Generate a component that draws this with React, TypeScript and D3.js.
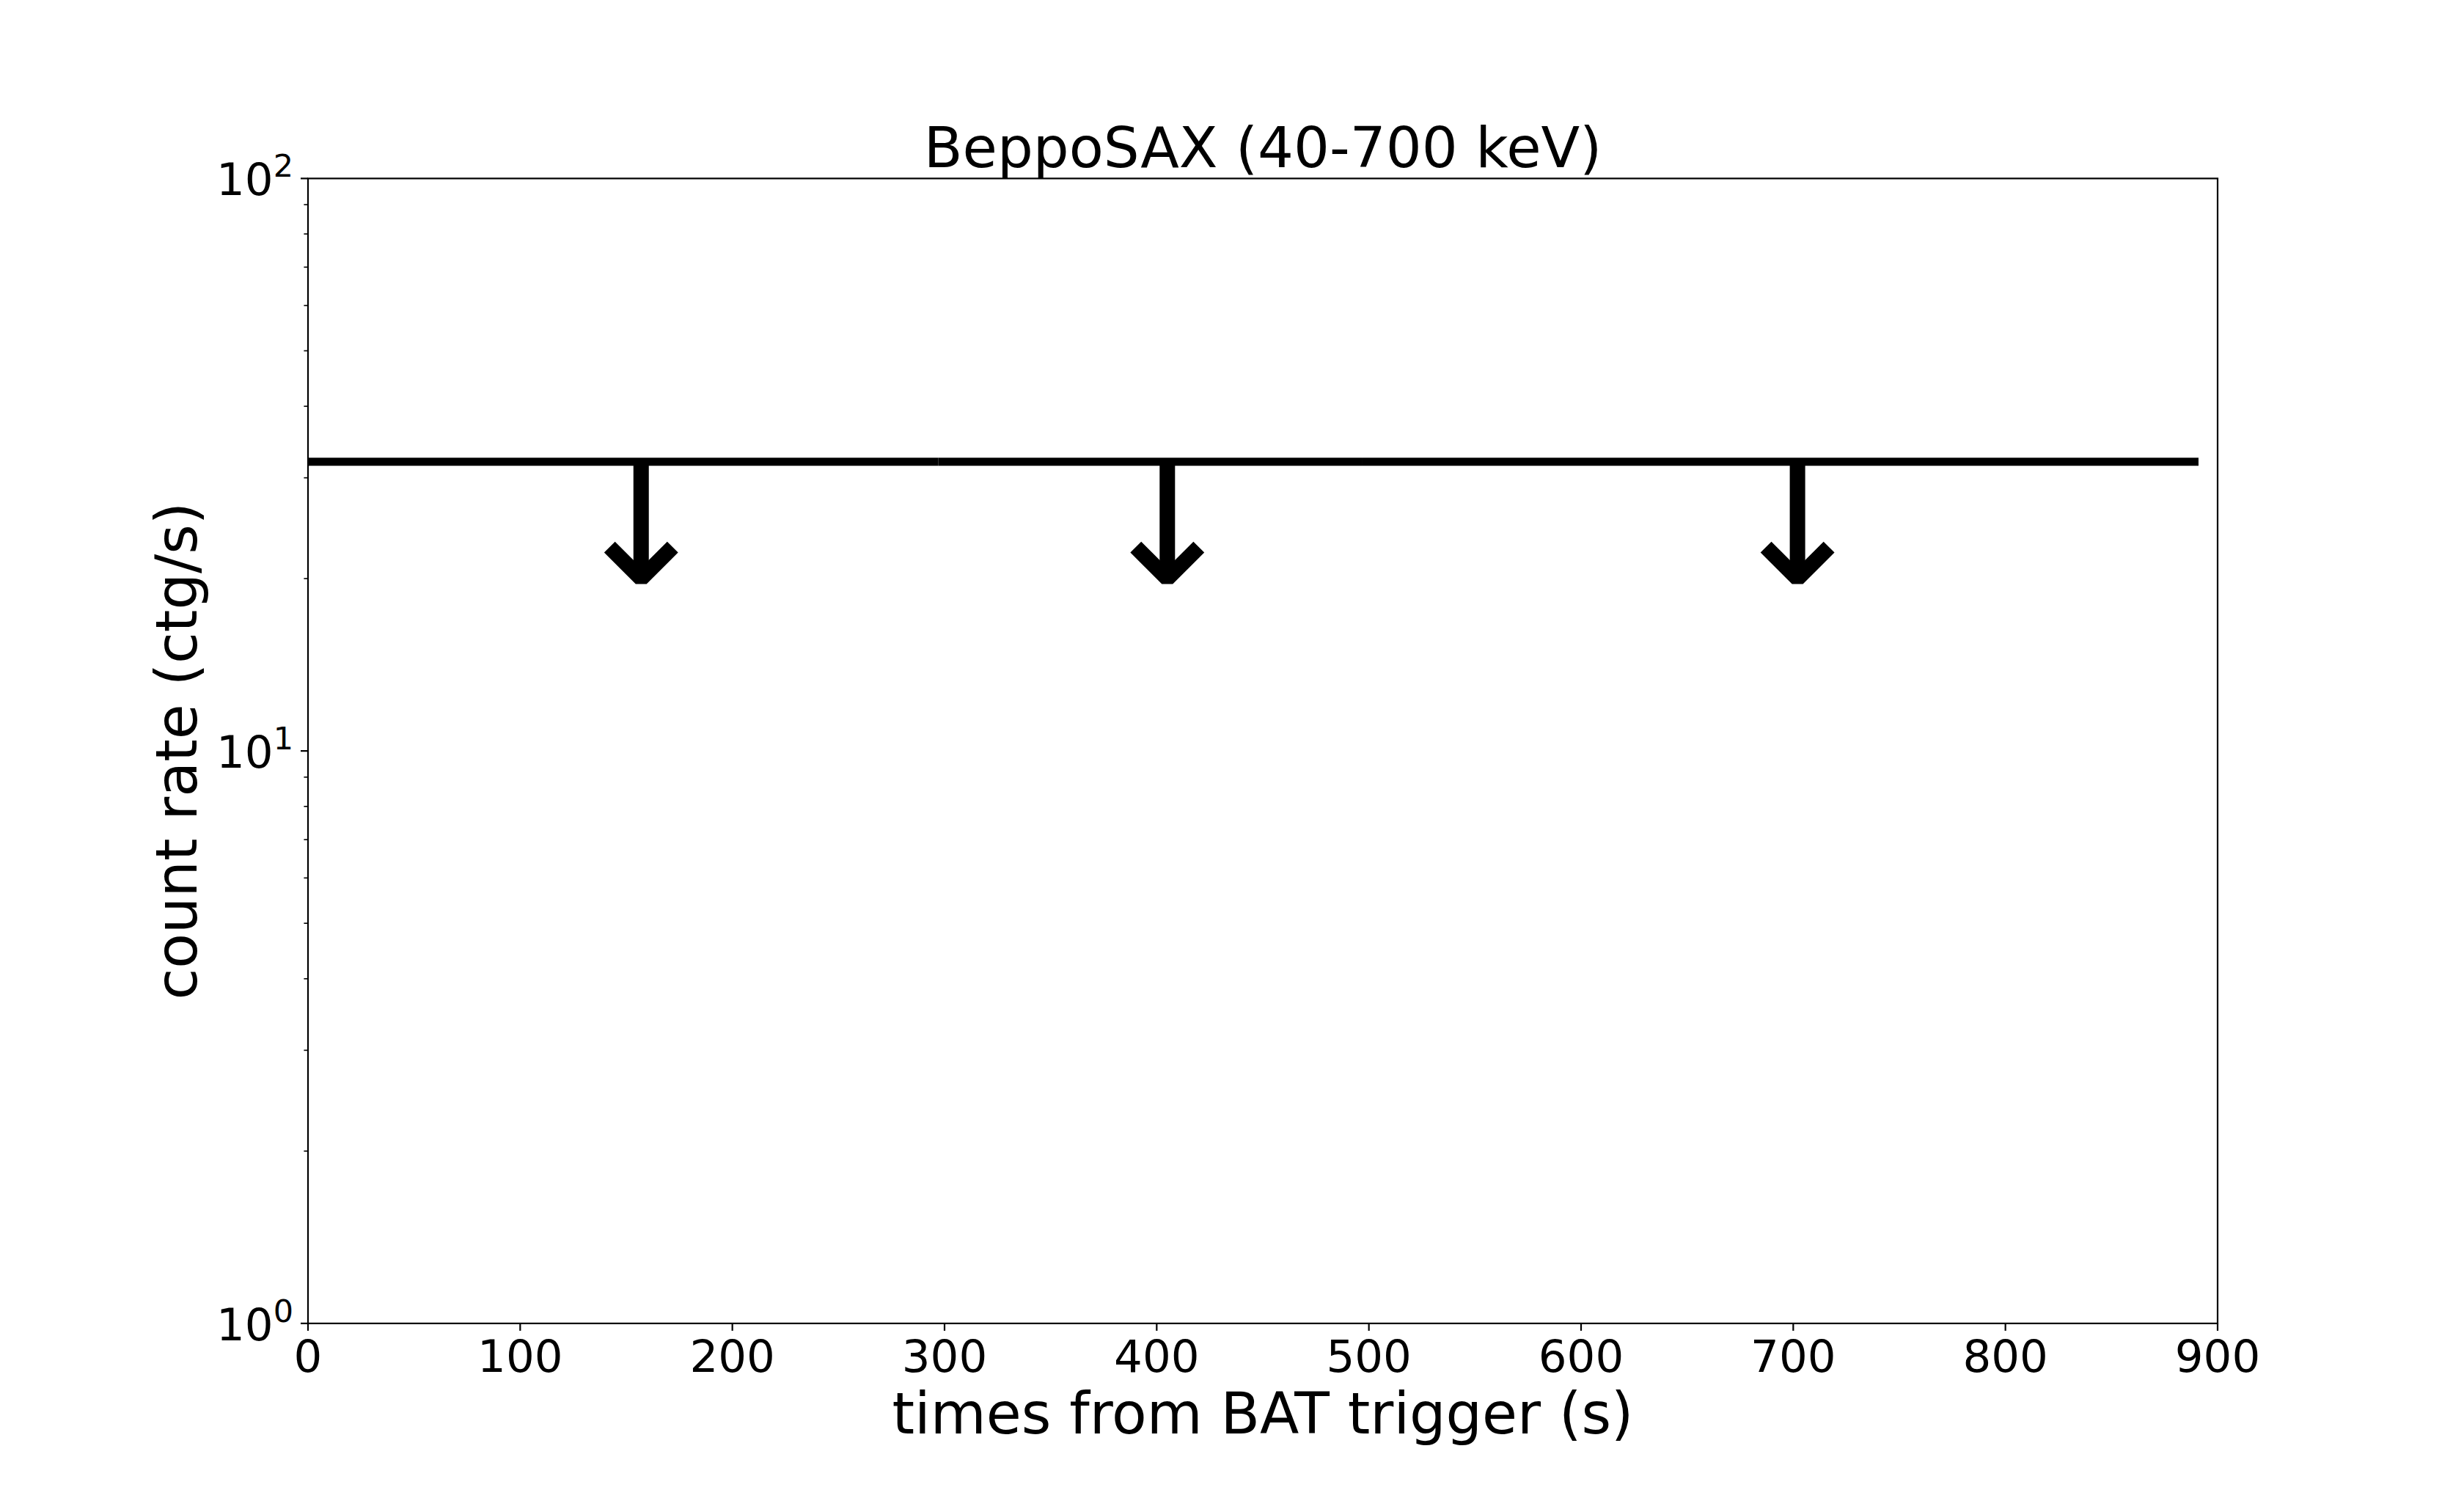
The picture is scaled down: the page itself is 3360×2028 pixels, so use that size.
import { useEffect, useRef } from "react";
import * as d3 from "d3";

// upper limits, one per time bin
const binTimes = [157, 405, 702];
const binStart = [0, 297, 497];
const binEnd = [297, 497, 891];
const upperLimit = [32, 32, 32];
const arrowEnd = [20, 20, 20];

const xTicks = [0, 100, 200, 300, 400, 500, 600, 700, 800, 900];
const yDecades = [0, 1, 2];

export default function App() {
  const svgRef = useRef<SVGSVGElement>(null);

  useEffect(() => {
    const svg = d3.select(svgRef.current);
    svg.selectAll("*").remove();

    const width = 3360;
    const height = 2028;
    const left = 420, right = 3024, top = 243.4, bottom = 1804.9;
    const font = "DejaVu Sans, sans-serif";

    svg.attr("width", width).attr("height", height);
    svg.append("rect").attr("width", width).attr("height", height).attr("fill", "#fff");

    const x = d3.scaleLinear().domain([0, 900]).range([left, right]);
    const y = d3.scaleLog().domain([1, 100]).range([bottom, top]);

    const data = binTimes.map((t, i) => ({
      t, lo: binStart[i], hi: binEnd[i], up: upperLimit[i], end: arrowEnd[i]
    }));

    const g = svg.append("g");

    // horizontal bars (bin widths)
    g.selectAll(".bin")
      .data(data)
      .enter()
      .append("line")
      .attr("x1", d => x(d.lo))
      .attr("x2", d => x(d.hi))
      .attr("y1", d => y(d.up))
      .attr("y2", d => y(d.up))
      .attr("stroke", "#000")
      .attr("stroke-width", 11);

    // arrow shafts
    g.selectAll(".shaft")
      .data(data)
      .enter()
      .append("line")
      .attr("x1", d => x(d.t))
      .attr("x2", d => x(d.t))
      .attr("y1", d => y(d.up))
      .attr("y2", d => y(d.end))
      .attr("stroke", "#000")
      .attr("stroke-width", 21);

    // arrow heads
    const head = 43;
    g.selectAll(".head")
      .data(data)
      .enter()
      .append("path")
      .attr("d", d => {
        const cx = x(d.t), cy = y(d.end);
        return `M${cx - head},${cy - head}L${cx},${cy}L${cx + head},${cy - head}`;
      })
      .attr("fill", "none")
      .attr("stroke", "#000")
      .attr("stroke-width", 21)
      .attr("stroke-linejoin", "bevel");

    // frame
    svg.append("rect")
      .attr("x", left).attr("y", top)
      .attr("width", right - left).attr("height", bottom - top)
      .attr("fill", "none").attr("stroke", "#000").attr("stroke-width", 2.2);

    // x ticks
    const xt = svg.append("g");
    xTicks.forEach(v => {
      xt.append("line")
        .attr("x1", x(v)).attr("x2", x(v))
        .attr("y1", bottom).attr("y2", bottom + 10)
        .attr("stroke", "#000").attr("stroke-width", 2.2);
      xt.append("text")
        .attr("x", x(v)).attr("y", bottom + 66)
        .attr("text-anchor", "middle")
        .style("font-family", font).style("font-size", "61px")
        .text(v);
    });

    // y ticks (log)
    const yt = svg.append("g");
    yDecades.forEach(p => {
      const v = Math.pow(10, p);
      yt.append("line")
        .attr("x1", left - 10).attr("x2", left)
        .attr("y1", y(v)).attr("y2", y(v))
        .attr("stroke", "#000").attr("stroke-width", 2.2);
      const label = yt.append("text")
        .attr("x", left - 20).attr("y", y(v) + 23)
        .attr("text-anchor", "end")
        .style("font-family", font).style("font-size", "61px");
      label.append("tspan").text("10");
      label.append("tspan").attr("dy", -25).style("font-size", "43px").text(p);
    });
    y.ticks().filter(v => !yDecades.includes(Math.log10(v))).forEach(v => {
      yt.append("line")
        .attr("x1", left - 5.6).attr("x2", left)
        .attr("y1", y(v)).attr("y2", y(v))
        .attr("stroke", "#000").attr("stroke-width", 1.6);
    });

    // labels
    svg.append("text")
      .attr("x", (left + right) / 2).attr("y", 228)
      .attr("text-anchor", "middle")
      .style("font-family", font).style("font-size", "77px")
      .text("BeppoSAX (40-700 keV)");

    svg.append("text")
      .attr("x", (left + right) / 2).attr("y", 1955)
      .attr("text-anchor", "middle")
      .style("font-family", font).style("font-size", "78px")
      .text("times from BAT trigger (s)");

    svg.append("text")
      .attr("transform", `translate(268,${(top + bottom) / 2}) rotate(-90)`)
      .attr("text-anchor", "middle")
      .style("font-family", font).style("font-size", "78px")
      .text("count rate (ctg/s)");
  }, []);

  return <svg ref={svgRef} style={{ position: "absolute", left: 0, top: 0, display: "block" }}></svg>;
}
